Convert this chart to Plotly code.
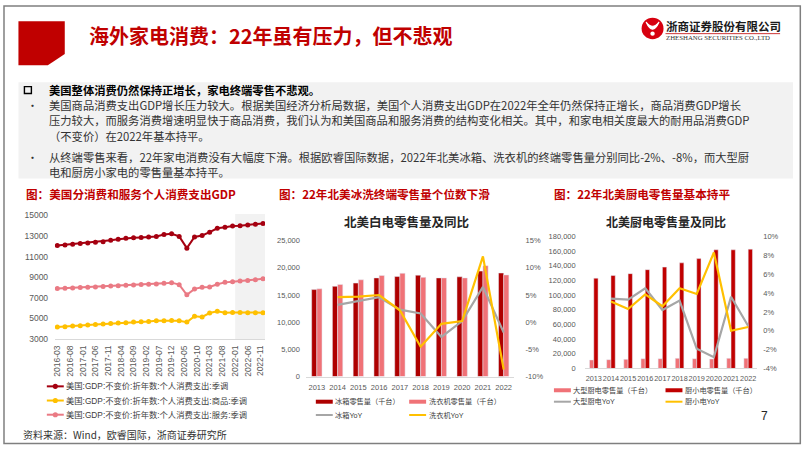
import plotly.graph_objects as go

W, H = 802, 451

# ---------------- data ----------------
gdp_quarters = [
    '2016-03-01', '2016-06-01', '2016-09-01', '2016-12-01',
    '2017-03-01', '2017-06-01', '2017-09-01', '2017-12-01',
    '2018-03-01', '2018-06-01', '2018-09-01', '2018-12-01',
    '2019-03-01', '2019-06-01', '2019-09-01', '2019-12-01',
    '2020-03-01', '2020-06-01', '2020-09-01', '2020-12-01',
    '2021-03-01', '2021-06-01', '2021-09-01', '2021-12-01',
    '2022-03-01', '2022-06-01', '2022-09-01', '2022-12-01']
pce_total = [12064, 12128, 12191, 12254, 12317, 12380, 12443, 12570,
             12664, 12759, 12822, 12854, 12885, 12948, 13138, 13201,
             12950, 11810, 12890, 13040, 13360, 13740, 13830, 13960,
             13990, 14050, 14120, 14210]
pce_goods = [4173, 4205, 4268, 4300, 4363, 4426, 4458, 4520,
             4552, 4584, 4647, 4678, 4710, 4773, 4773, 4804,
             4773, 4647, 5215, 5150, 5530, 5688, 5560, 5590,
             5590, 5560, 5560, 5560]
pce_services = [7898, 7930, 7960, 7990, 8020, 8050, 8090, 8150,
                8180, 8210, 8240, 8280, 8310, 8340, 8400, 8470,
                8277, 7298, 7866, 8024, 8050, 8308, 8497, 8560,
                8620, 8680, 8750, 8840]
highlight_start = '2022-01-01'
pce_labels = ['美国:GDP:不变价:折年数:个人消费支出:季调',
              '美国:GDP:不变价:折年数:个人消费支出:商品:季调',
              '美国:GDP:不变价:折年数:个人消费支出:服务:季调']

years = ['2013', '2014', '2015', '2016', '2017', '2018', '2019', '2020', '2021', '2022']
fridge_units = [16000, 16600, 17200, 18150, 18400, 18650, 18150, 18350, 19400, 19050]
washer_units = [16150, 16950, 17800, 18600, 19000, 18250, 18150, 18150, 20400, 18700]
fridge_yoy = [None, 0.032, 0.039, 0.046, 0.023, 0.016, -0.027, 0.002, 0.065, -0.019]
washer_yoy = [None, 0.046, 0.047, 0.050, 0.022, -0.045, -0.003, 0.002, 0.121, -0.087]
white_labels = ['冰箱零售量（千台）', '洗衣机零售量（千台）', '冰箱YoY', '洗衣机YoY']
white_pct_vals = [-0.10, -0.05, 0.0, 0.05, 0.10, 0.15]
white_pct_text = ['-10%', '-5%', '0%', '5%', '10%', '15%']

large_kitchen = [11600, 12000, 12400, 13300, 13300, 13800, 13300, 12900, 13800, 13800]
small_kitchen = [123100, 126700, 129300, 134700, 138200, 144000, 149800, 161800, 161800, 162700]
large_yoy = [None, 0.034, 0.033, 0.045, 0.022, 0.032, -0.019, -0.028, 0.036, 0.005]
small_yoy = [None, 0.031, 0.023, 0.0385, 0.026, 0.045, 0.039, 0.083, 0.000, 0.004]
kitchen_labels = ['大型厨电零售量（千台）', '厨小电零售量（千台）', '大型厨电YoY', '厨小电YoY']
kitchen_pct_vals = [-0.04, -0.02, 0.0, 0.02, 0.04, 0.06, 0.08, 0.10]
kitchen_pct_text = ['-4%', '-2%', '0%', '2%', '4%', '6%', '8%', '10%']

# ---------------- style ----------------
RED = '#C00000'
C_TOTAL = '#A50010'
C_GOODS = '#FFC000'
C_SERV = '#EA7A84'
C_DARKBAR = '#AE0000'
C_DARKBAR2 = '#C00000'
C_LIGHTBAR = '#F07277'
C_GRAY = '#A6A6A6'
C_YEL = '#FFC000'
AX = '#595959'
TXT = '#262626'
CJK = 'Noto Sans CJK SC, Liberation Sans, sans-serif'
NUM = 'Liberation Sans, Arial, Noto Sans CJK SC, sans-serif'


def X(p):
    return p / W


def Y(p):
    return 1 - p / H


fig = go.Figure()

# ---- left chart: PCE ----
for vals, col in [(pce_total, C_TOTAL), (pce_goods, C_GOODS), (pce_services, C_SERV)]:
    fig.add_trace(go.Scatter(x=gdp_quarters, y=vals, mode='lines+markers',
                             line=dict(color=col, width=2),
                             marker=dict(size=5, color=col),
                             xaxis='x', yaxis='y', showlegend=False, hoverinfo='skip'))

# ---- middle chart ----
fig.add_trace(go.Bar(x=years, y=fridge_units, marker_color=C_DARKBAR, xaxis='x2', yaxis='y2',
                     showlegend=False, hoverinfo='skip'))
fig.add_trace(go.Bar(x=years, y=washer_units, marker_color=C_LIGHTBAR, xaxis='x2', yaxis='y2',
                     showlegend=False, hoverinfo='skip'))
fig.add_trace(go.Scatter(x=years, y=fridge_yoy, mode='lines', line=dict(color=C_GRAY, width=2.2),
                         xaxis='x2', yaxis='y3', showlegend=False, hoverinfo='skip'))
fig.add_trace(go.Scatter(x=years, y=washer_yoy, mode='lines', line=dict(color=C_YEL, width=2.2),
                         xaxis='x2', yaxis='y3', showlegend=False, hoverinfo='skip'))

# ---- right chart ----
fig.add_trace(go.Bar(x=years, y=large_kitchen, marker_color=C_LIGHTBAR, xaxis='x3', yaxis='y4',
                     showlegend=False, hoverinfo='skip'))
fig.add_trace(go.Bar(x=years, y=small_kitchen, marker_color=C_DARKBAR2, xaxis='x3', yaxis='y4',
                     showlegend=False, hoverinfo='skip'))
fig.add_trace(go.Scatter(x=years, y=large_yoy, mode='lines', line=dict(color=C_GRAY, width=2.2),
                         xaxis='x3', yaxis='y5', showlegend=False, hoverinfo='skip'))
fig.add_trace(go.Scatter(x=years, y=small_yoy, mode='lines', line=dict(color=C_YEL, width=2.2),
                         xaxis='x3', yaxis='y5', showlegend=False, hoverinfo='skip'))

tf_small = dict(size=7.5, color=AX, family=NUM)
hidden_tick = dict(ticks='outside', tickcolor='rgba(0,0,0,0)')

fig.update_layout(
    width=W, height=H, autosize=False,
    margin=dict(l=0, r=0, t=0, b=0, pad=0),
    paper_bgcolor='white', plot_bgcolor='rgba(0,0,0,0)',
    barmode='group', bargap=0.5, bargroupgap=0,
    showlegend=False,
    xaxis=dict(domain=[X(52), X(263)], type='date', range=['2016-01-31', '2022-12-25'],
               tick0='2016-03-01', dtick='M5', tickformat='%Y-%m', tickangle=-90,
               tickfont=dict(size=8.5, color=AX, family=NUM), showline=True, linecolor='#D9D9D9',
               showgrid=False, zeroline=False, anchor='y', ticklen=2, **hidden_tick),
    yaxis=dict(domain=[Y(341.7), Y(215)], range=[3000, 15000], tick0=3000, dtick=2000,
               tickformat='d', showgrid=False, zeroline=False, anchor='x',
               tickfont=dict(size=8.5, color=AX, family=NUM), ticklen=4, **hidden_tick),
    xaxis2=dict(domain=[X(304.6), X(513)], type='category', anchor='y2', showline=True,
                linecolor='#D9D9D9', showgrid=False, zeroline=False, tickfont=tf_small,
                tickangle=0, dtick=1, ticklen=3, **hidden_tick),
    yaxis2=dict(domain=[Y(380), Y(241)], range=[0, 25000], dtick=5000, tickformat=',',
                anchor='x2', showgrid=False, zeroline=False, tickfont=tf_small,
                ticklen=4, **hidden_tick),
    yaxis3=dict(overlaying='y2', side='right', anchor='x2', range=[-0.10, 0.15],
                tickvals=white_pct_vals, ticktext=white_pct_text, showgrid=False,
                zeroline=False, tickfont=tf_small, ticklen=9, **hidden_tick),
    xaxis3=dict(domain=[X(584.4), X(756.6)], type='category', anchor='y4', showline=True,
                linecolor='#D9D9D9', showgrid=False, zeroline=False,
                tickfont=dict(size=7.3, color=AX, family=NUM),
                tickangle=0, dtick=1, ticklen=3, **hidden_tick),
    yaxis4=dict(domain=[Y(371.7), Y(236.7)], range=[0, 180000], dtick=20000, tickformat=',',
                anchor='x3', showgrid=False, zeroline=False, tickfont=tf_small,
                ticklen=7, **hidden_tick),
    yaxis5=dict(overlaying='y4', side='right', anchor='x3', range=[-0.04, 0.10],
                tickvals=kitchen_pct_vals, ticktext=kitchen_pct_text, showgrid=False,
                zeroline=False, tickfont=tf_small, ticklen=4, **hidden_tick),
)

shapes = []
anns = []


def text(x, y, s, size, color=TXT, bold=False, anchor='left', family=CJK):
    anns.append(dict(x=X(x), y=Y(y), xref='paper', yref='paper',
                     text=f'<b>{s}</b>' if bold else s, showarrow=False,
                     xanchor=anchor, yanchor='middle', borderpad=0,
                     font=dict(size=size, color=color, family=family)))


def pline(x0, y0, x1, y1, color, width):
    shapes.append(dict(type='line', xref='paper', yref='paper', x0=X(x0), y0=Y(y0),
                       x1=X(x1), y1=Y(y1), line=dict(color=color, width=width)))


def legend_item(kind, color, x, y, label, size, w=17):
    if kind == 'bar':
        pline(x, y, x + w, y, color, 4)
    else:
        pline(x, y, x + w, y, color, 2)
    if kind == 'marker':
        r = 2.6
        shapes.append(dict(type='circle', xref='paper', yref='paper',
                           x0=X(x + w / 2 - r), x1=X(x + w / 2 + r),
                           y0=Y(y + r), y1=Y(y - r),
                           fillcolor=color, line=dict(color=color, width=0)))
    text(x + w + 1.5, y, label, size, color='#404040', family=NUM)


# gray text panel
shapes.append(dict(type='rect', xref='paper', yref='paper', x0=X(15.5), x1=X(793),
                   y0=Y(177.5), y1=Y(79), fillcolor='#F2F2F2', line=dict(width=0), layer='below'))
# highlighted 2022 band on left chart
shapes.append(dict(type='rect', xref='x', yref='y domain', x0=highlight_start, x1='2022-12-25',
                   y0=0, y1=1.01, fillcolor='#F2F2F2', line=dict(width=0), layer='below'))
# slide frame
shapes.append(dict(type='rect', xref='paper', yref='paper', x0=X(1), x1=X(800.3),
                   y0=Y(448.5), y1=Y(1), line=dict(color='#7F7F7F', width=1.5)))
# red header block
path = 'M {} {} L {} {} L {} {} L {} {} L {} {} Z'.format(
    X(15.5), Y(16.7), X(62), Y(16.7), X(62), Y(50), X(45), Y(61.7), X(15.5), Y(61.7))
shapes.append(dict(type='path', xref='paper', yref='paper', path=path,
                   fillcolor=RED, line=dict(width=0)))
# logo
shapes.append(dict(type='circle', xref='paper', yref='paper', x0=X(641), x1=X(663),
                   y0=Y(35), y1=Y(13), fillcolor='#D7000F', line=dict(width=0)))
lp = 'M {} {} Q {} {} {} {} Q {} {} {} {}'.format(
    X(645.5), Y(17.5), X(652), Y(32), X(658.5), Y(17.5), X(652), Y(26), X(645.5), Y(17.5))
shapes.append(dict(type='path', xref='paper', yref='paper', path=lp,
                   fillcolor='white', line=dict(color='white', width=1.2)))
shapes.append(dict(type='circle', xref='paper', yref='paper', x0=X(649.8), x1=X(654.2),
                   y0=Y(31.5), y1=Y(27.1), fillcolor='white', line=dict(width=0)))
pline(665, 29.3, 780, 29.3, '#C00000', 0.8)
text(664.5, 21, '浙商证券股份有限公司', 11.5, color='#1A1A1A', bold=True)
text(664.5, 33.5, 'ZHESHANG SECURITIES CO.,LTD', 6.8, color='#333333',
     family='Liberation Serif, Times New Roman, serif')

# header title
text(85, 31, '海外家电消费：22年虽有压力，但不悲观', 20, color=RED, bold=True)

# text panel
shapes.append(dict(type='rect', xref='paper', yref='paper', x0=X(21.5), x1=X(28.5),
                   y0=Y(90.5), y1=Y(83.5), line=dict(color='#000000', width=1.4)))
text(45.5, 86.5, '美国整体消费仍然保持正增长，家电终端零售不悲观。', 11.3, color='#000000', bold=True)
body = [
    (102, '美国商品消费支出GDP增长压力较大。根据美国经济分析局数据，美国个人消费支出GDP在2022年全年仍然保持正增长，商品消费GDP增长', True),
    (118, '压力较大，而服务消费增速明显快于商品消费，我们认为和美国商品和服务消费的结构变化相关。其中，和家电相关度最大的耐用品消费GDP', False),
    (134, '（不变价）在2022年基本持平。', False),
    (155, '从终端零售来看，22年家电消费没有大幅度下滑。根据欧睿国际数据，2022年北美冰箱、洗衣机的终端零售量分别同比-2%、-8%，而大型厨', True),
    (171, '电和厨房小家电的零售量基本持平。', False),
]
for yy, s, bullet in body:
    if bullet:
        text(23, yy, '•', 11, color='#333333')
    text(45.5, yy, s, 11.3, color='#333333')

# chart captions
text(22.5, 193, '图：美国分消费和服务个人消费支出GDP', 11.6, color=RED, bold=True)
text(276.5, 193, '图：22年北美冰洗终端零售量个位数下滑', 11.6, color=RED, bold=True)
text(552.5, 193, '图：22年北美厨电零售量基本持平', 11.6, color=RED, bold=True)
text(405, 221, '北美白电零售量及同比', 12.5, color=TXT, bold=True, anchor='center')
text(665, 221.5, '北美厨电零售量及同比', 12, color=TXT, bold=True, anchor='center')

# left legend
for yy, col, lab in [(390, C_TOTAL, pce_labels[0]), (404.5, C_GOODS, pce_labels[1]),
                     (419, C_SERV, pce_labels[2])]:
    legend_item('marker', col, 44, yy, lab, 8.3)

# middle legend
legend_item('bar', C_DARKBAR, 314, 405.7, white_labels[0], 7.2)
legend_item('bar', C_LIGHTBAR, 407.7, 405.7, white_labels[1], 7.2)
legend_item('line', C_GRAY, 314, 419.3, white_labels[2], 7.2)
legend_item('line', C_YEL, 407.7, 419.3, white_labels[3], 7.2)

# right legend
legend_item('bar', C_LIGHTBAR, 553, 394, kitchen_labels[0], 7.2)
legend_item('bar', C_DARKBAR2, 665, 394, kitchen_labels[1], 7.2)
legend_item('line', C_GRAY, 553, 405.7, kitchen_labels[2], 7.2)
legend_item('line', C_YEL, 665, 405.7, kitchen_labels[3], 7.2)

# source & page number
text(19, 439, '资料来源：Wind，欧睿国际，浙商证券研究所', 10, color='#333333')
text(764, 420.5, '7', 12, color=TXT, anchor='center', family=NUM)

fig.update_layout(shapes=shapes, annotations=anns)

fig.write_html('out.html', include_plotlyjs=True, config={'displayModeBar': False},
               post_script="document.body.style.margin='0';document.body.style.overflow='hidden';")
